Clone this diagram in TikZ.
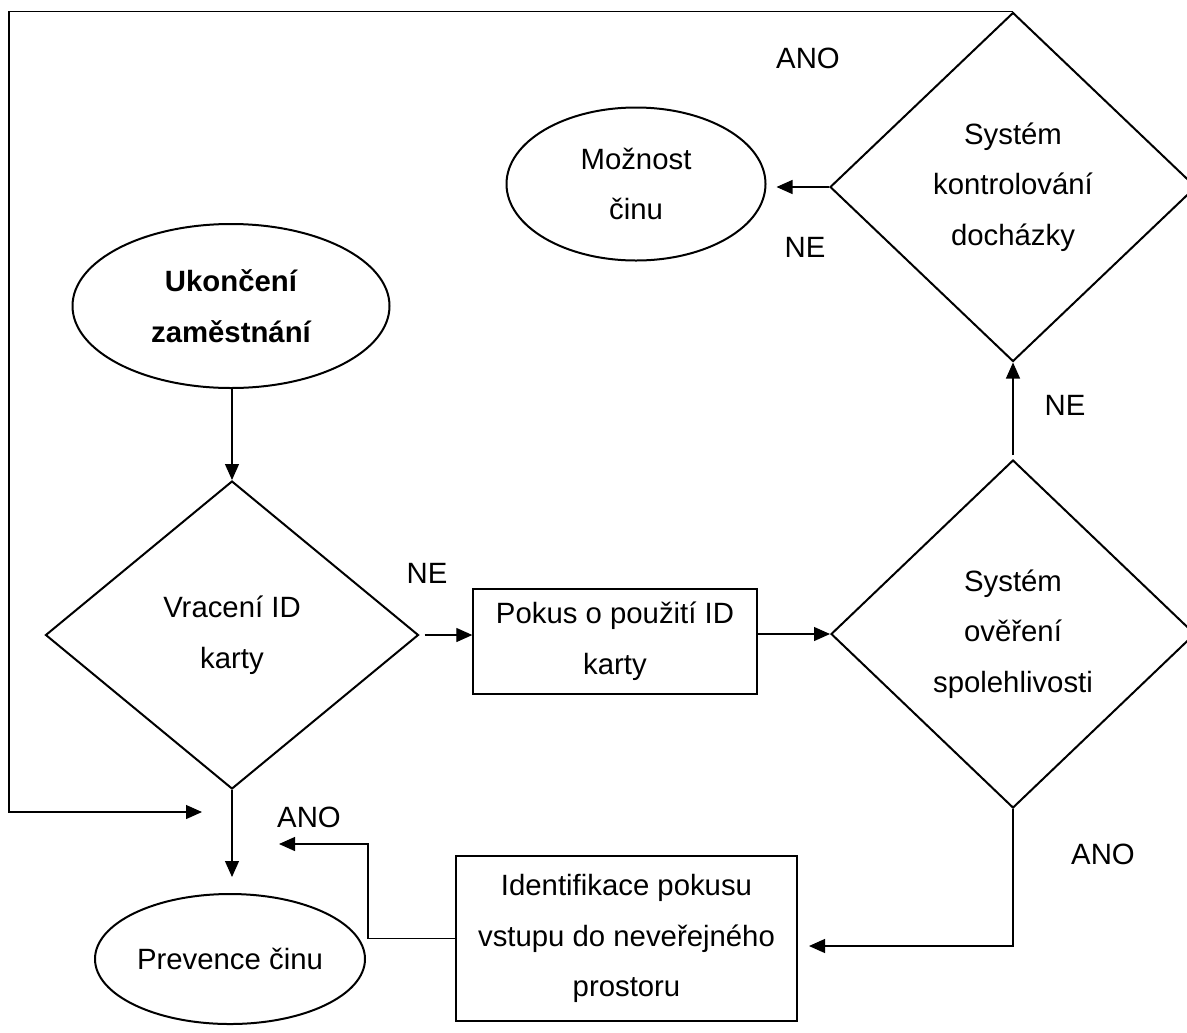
\documentclass[tikz,border=0pt]{standalone}
\usepackage{fontspec}
\setmainfont{Liberation Sans}
\usetikzlibrary{shapes.geometric,arrows.meta}
\begin{document}
\begin{tikzpicture}[x=0.75pt,y=-0.75pt,
  txt/.style={font=\fontsize{22}{38}\selectfont, align=center, inner sep=0pt},
  decision/.style={txt, diamond, draw, line width=1.5pt},
  terminal/.style={txt, ellipse, draw, line width=1.5pt},
  process/.style={txt, rectangle, draw, line width=1pt},
  flow/.style={line width=0.9pt, -{Triangle[length=12pt,width=10.5pt]}},
  lbl/.style={font=\fontsize{22}{26}\selectfont, inner sep=0pt}]
\useasboundingbox (0,0) rectangle (1187,1032);
\clip (0,0) rectangle (1187,1032);

% decisions
\node[decision, minimum width=274.5pt, minimum height=261.75pt] (kd) at (1013,187)
  {Systém\\kontrolování\\docházky};
\node[decision, minimum width=273pt, minimum height=261pt] (sd) at (1013,634)
  {Systém\\ověření\\spolehlivosti};
\node[decision, minimum width=279.75pt, minimum height=231pt] (vd) at (232,635)
  {Vracení ID\\karty};

% start / end points
\node[terminal, minimum width=194.25pt, minimum height=114.75pt] (moz) at (636,184)
  {Možnost\\činu};
\node[terminal, minimum width=237.75pt, minimum height=123pt] (uk) at (231,306)
  {\bfseries Ukončení\\\bfseries zaměstnání};
\node[terminal, minimum width=202.5pt, minimum height=97.5pt] (prev) at (230,959)
  {Prevence činu};

% processes
\node[process, minimum width=213pt, minimum height=78.75pt] (pk) at (615,641.5)
  {Pokus o použití ID\\karty};
\node[process, minimum width=255.75pt, minimum height=123.75pt] (id) at (626.5,938.5)
  {Identifikace pokusu\\vstupu do neveřejného\\prostoru};

% helper points of the routed connectors
\coordinate (c1) at (1013,946);
\coordinate (t1) at (809,946);
\coordinate (c2) at (368,844);
\coordinate (t2) at (279,844);
\coordinate (c3) at (9,13);
\coordinate (c4) at (9,812);
\coordinate (t3) at (202,812);

% connectors
\draw[flow] (uk.south -| vd.north) -- (vd.north);
\draw[flow, shorten <=3.75pt] (vd.east) -- (vd.east -| pk.west);
\draw[flow] (pk.east |- sd.west) -- (sd.west);
\draw[flow, shorten <=3pt] (sd.north) -- (kd.south);
\draw[flow, shorten >=7.5pt] (kd.west) -- (kd.west -| moz.east);
\draw[flow] (sd.south) -- (c1) -- (t1);
\draw[flow] (id.west) -| (c2) -- (t2);
\draw[flow, shorten >=12pt] (vd.south) -- (vd.south |- prev.north);
\draw[flow] (kd.north) -- (kd.north -| c3) -- (c4) -- (t3);

% branch labels
\node[lbl] (l1) at (808,58) {ANO};
\node[lbl] (l2) at (805,247) {NE};
\node[lbl] (l3) at (1065,405) {NE};
\node[lbl] (l4) at (427,573) {NE};
\node[lbl] (l5) at (1103,854) {ANO};
\node[lbl] (l6) at (309,817) {ANO};
\end{tikzpicture}
\end{document}
